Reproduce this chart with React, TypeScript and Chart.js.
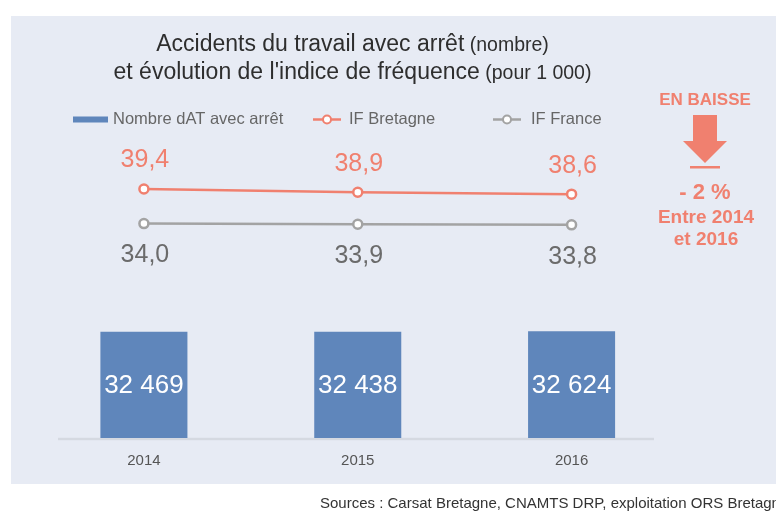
import React, { useEffect, useRef } from "react";
import { Chart, registerables } from "chart.js";

Chart.register(...registerables);

// ---- data ----
const years = ["2014", "2015", "2016"];
const accidents = [32469, 32438, 32624];
const ifBretagne = [39.4, 38.9, 38.6];
const ifFrance = [34.0, 33.9, 33.8];

const titleMain = ["Accidents du travail avec arrêt", "et évolution de l'indice de fréquence"];
const titleSub = [" (nombre)", " (pour 1 000)"];
const legendLabels = ["Nombre dAT avec arrêt", "IF Bretagne", "IF France"];
const sideTexts = ["EN BAISSE", "- 2 %", "Entre 2014", "et 2016"];
const sourceText = "Sources : Carsat Bretagne, CNAMTS DRP, exploitation ORS Bretagne";

// ---- styles ----
const W = 776;
const H = 515;
const BLUE = "#5f86bb";
const SALMON = "#f0806f";
const GREY = "#a3a3a3";
const PANEL = "#e7ebf4";
const FONT = '"Liberation Sans", Arial, sans-serif';

const fmtInt = (n: number) => String(n).replace(/\B(?=(\d{3})+(?!\d))/g, " ");
const fmtDec = (n: number) => n.toFixed(1).replace(".", ",");

const decorPlugin = {
  id: "decor",
  beforeDraw(chart: any) {
    const ctx = chart.ctx;
    ctx.save();
    ctx.fillStyle = "#ffffff";
    ctx.fillRect(0, 0, W, H);
    ctx.fillStyle = PANEL;
    ctx.fillRect(11, 16, W - 11, 468);
    ctx.restore();
  },
  beforeDatasetsDraw(chart: any) {
    const ctx = chart.ctx;
    ctx.save();
    ctx.strokeStyle = "#d5d9e1";
    ctx.lineWidth = 2.5;
    ctx.beginPath();
    ctx.moveTo(58, 439);
    ctx.lineTo(654, 439);
    ctx.stroke();
    ctx.restore();
  },
  afterDraw(chart: any) {
    const ctx = chart.ctx;
    ctx.save();
    ctx.textBaseline = "middle";
    // title
    const cx = 352.5;
    const ty = [45, 73];
    for (let i = 0; i < 2; i++) {
      ctx.font = `23px ${FONT}`;
      const w1 = ctx.measureText(titleMain[i]).width;
      ctx.font = `19.5px ${FONT}`;
      const w2 = ctx.measureText(titleSub[i]).width;
      const x0 = cx - (w1 + w2) / 2;
      ctx.fillStyle = "#2e2e2e";
      ctx.textAlign = "left";
      ctx.font = `23px ${FONT}`;
      ctx.fillText(titleMain[i], x0, ty[i]);
      ctx.font = `19.5px ${FONT}`;
      ctx.fillText(titleSub[i], x0 + w1, ty[i] + 1);
    }
    // legend
    const ly = 119.5;
    ctx.font = `16.5px ${FONT}`;
    ctx.textAlign = "left";
    ctx.fillStyle = BLUE;
    ctx.fillRect(73, ly - 3, 35, 6);
    ctx.fillStyle = "#666";
    ctx.fillText(legendLabels[0], 113, ly);
    const lineMarker = (x1: number, x2: number, color: string) => {
      ctx.strokeStyle = color;
      ctx.lineWidth = 2.5;
      ctx.beginPath();
      ctx.moveTo(x1, ly);
      ctx.lineTo(x2, ly);
      ctx.stroke();
      ctx.beginPath();
      ctx.arc((x1 + x2) / 2, ly, 4, 0, Math.PI * 2);
      ctx.fillStyle = "#fff";
      ctx.fill();
      ctx.lineWidth = 2;
      ctx.stroke();
    };
    lineMarker(313, 341, SALMON);
    ctx.fillStyle = "#666";
    ctx.fillText(legendLabels[1], 349, ly);
    lineMarker(493, 521, GREY);
    ctx.fillStyle = "#666";
    ctx.fillText(legendLabels[2], 531, ly);

    // side panel
    ctx.fillStyle = SALMON;
    ctx.textAlign = "center";
    ctx.font = `bold 17px ${FONT}`;
    ctx.fillText(sideTexts[0], 705, 100);
    // arrow
    ctx.beginPath();
    ctx.moveTo(693, 115);
    ctx.lineTo(717, 115);
    ctx.lineTo(717, 141);
    ctx.lineTo(727, 141);
    ctx.lineTo(705, 163);
    ctx.lineTo(683, 141);
    ctx.lineTo(693, 141);
    ctx.closePath();
    ctx.fill();
    ctx.fillRect(690, 166, 30, 2.5);
    ctx.font = `bold 22px ${FONT}`;
    ctx.fillText(sideTexts[1], 705, 193);
    ctx.font = `bold 19px ${FONT}`;
    ctx.fillText(sideTexts[2], 706, 218);
    ctx.fillText(sideTexts[3], 706, 240);

    // sources
    ctx.textAlign = "left";
    ctx.fillStyle = "#333";
    ctx.font = `15px ${FONT}`;
    ctx.fillText(sourceText, 320, 504);
    ctx.restore();
  },
};

const labelPlugin = {
  id: "valueLabels",
  afterDatasetsDraw(chart: any) {
    const ctx = chart.ctx;
    ctx.save();
    ctx.textAlign = "center";
    ctx.textBaseline = "middle";
    chart.data.datasets.forEach((ds: any, di: number) => {
      const meta = chart.getDatasetMeta(di);
      meta.data.forEach((el: any, i: number) => {
        const v = ds.data[i] as number;
        if (ds.type === "bar") {
          ctx.fillStyle = "#ffffff";
          ctx.font = `26px ${FONT}`;
          ctx.fillText(fmtInt(v), el.x, (el.y + el.base) / 2 + 1);
        } else if (ds.label === legendLabels[1]) {
          ctx.fillStyle = SALMON;
          ctx.font = `25px ${FONT}`;
          ctx.fillText(fmtDec(v), el.x + 1, el.y - 28.5);
        } else {
          ctx.fillStyle = "#6b6b6b";
          ctx.font = `25px ${FONT}`;
          ctx.fillText(fmtDec(v), el.x + 1, el.y + 32);
        }
      });
    });
    ctx.restore();
  },
};

export default function App() {
  const ref = useRef<HTMLCanvasElement | null>(null);
  useEffect(() => {
    if (!ref.current) return;
    const chart = new Chart(ref.current, {
      type: "bar",
      data: {
        labels: years,
        datasets: [
          {
            type: "line",
            label: legendLabels[1],
            data: ifBretagne,
            yAxisID: "y1",
            borderColor: SALMON,
            borderWidth: 2.5,
            pointRadius: 4.5,
            pointBackgroundColor: "#ffffff",
            pointBorderColor: SALMON,
            pointBorderWidth: 2.5,
            order: 0,
          },
          {
            type: "line",
            label: legendLabels[2],
            data: ifFrance,
            yAxisID: "y1",
            borderColor: GREY,
            borderWidth: 2.5,
            pointRadius: 4.5,
            pointBackgroundColor: "#ffffff",
            pointBorderColor: GREY,
            pointBorderWidth: 2.5,
            order: 1,
          },
          {
            type: "bar",
            label: legendLabels[0],
            data: accidents,
            yAxisID: "y",
            backgroundColor: BLUE,
            categoryPercentage: 1,
            barPercentage: 0.407,
            order: 2,
          },
        ] as any,
      },
      options: {
        responsive: false,
        animation: false,
        layout: { padding: { left: 37, right: 97.5, top: 140, bottom: 31 } },
        plugins: {
          legend: { display: false },
          title: { display: false },
          tooltip: { enabled: false },
        },
        scales: {
          x: {
            grid: { display: false, drawTicks: false },
            border: { display: false },
            ticks: { color: "#555", font: { family: FONT, size: 15 }, padding: 14 },
          },
          y: { display: false, min: 0, max: 91000 },
          y1: { display: false, min: 0.5, max: 47.06 },
        },
      },
      plugins: [decorPlugin, labelPlugin],
    });
    return () => chart.destroy();
  }, []);
  return (
    <div style={{ position: "fixed", left: 0, top: 0, width: W, height: H, overflow: "hidden", background: "#fff" }}>
      <canvas ref={ref} width={W} height={H} style={{ display: "block", width: W, height: H }} />
    </div>
  );
}
